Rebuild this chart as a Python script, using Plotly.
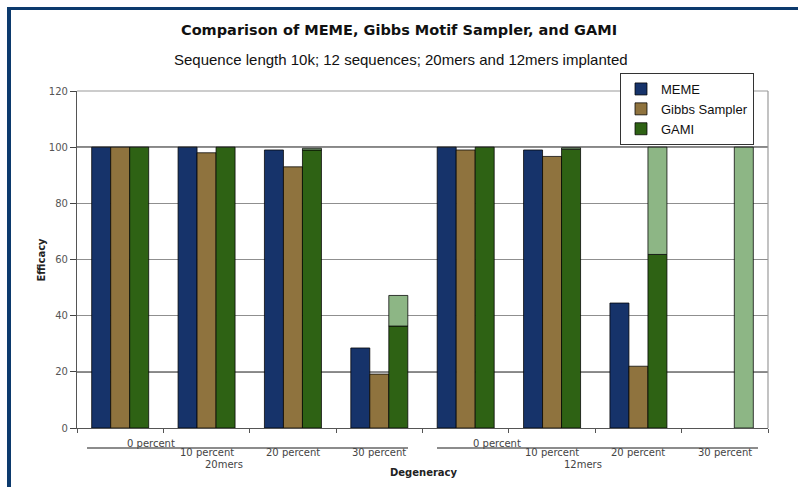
import plotly.graph_objects as go

categories = ["0 percent", "10 percent", "20 percent", "30 percent",
              "0 percent", "10 percent", "20 percent", "30 percent"]
groups = ["20mers", "12mers"]
meme = [100, 100, 99, 28.5, 100, 99, 44.5, 0]
gibbs = [100, 98, 93, 19.2, 99, 96.7, 22, 0]
gami = [100, 100, 99, 36.3, 100, 99.3, 61.8, 0]
gami_upper = [100, 100, 99.6, 47.2, 100, 99.8, 100, 100]
yticks = [0, 20, 40, 60, 80, 100, 120]

W, H = 798, 487
L, R, T, B = 77, 30, 91, 59
pw, ph = W - L - R, H - T - B

def px_x(p):
    return (p - L) / pw

def px_y(p):
    return (H - B - p) / ph

def outline(vals):
    return dict(color="rgba(0,0,0,0.75)", width=[1 if v > 0 else 0 for v in vals])

xs = list(range(len(categories)))
gami_ext = [u - g for u, g in zip(gami_upper, gami)]

fig = go.Figure()
fig.add_trace(go.Bar(x=xs, y=meme, name="MEME", offsetgroup="a",
                     marker=dict(color="#16336a", line=outline(meme))))
fig.add_trace(go.Bar(x=xs, y=gibbs, name="Gibbs Sampler", offsetgroup="b",
                     marker=dict(color="#8f733e", line=outline(gibbs))))
fig.add_trace(go.Bar(x=xs, y=gami, name="GAMI", offsetgroup="c",
                     marker=dict(color="#2e6214", line=outline(gami))))
fig.add_trace(go.Bar(x=xs, y=gami_ext, base=gami,
                     offsetgroup="c", showlegend=False,
                     marker=dict(color="#8db685", line=outline(gami_ext))))

shapes = []
for v in (20, 100):
    shapes.append(dict(type="line", xref="paper", yref="y", x0=0, x1=1, y0=v, y1=v,
                       line=dict(color="#111111", width=1.2), layer="below"))
shapes.append(dict(type="line", xref="paper", yref="paper", x0=0, x1=1, y0=1, y1=1,
                   line=dict(color="#9a9a9a", width=1.2)))
shapes.append(dict(type="line", xref="paper", yref="paper", x0=1, x1=1, y0=0, y1=1,
                   line=dict(color="#9a9a9a", width=1.2)))
for x0, x1 in ((-0.384, 3.332), (3.668, 7.384)):
    shapes.append(dict(type="line", xref="x", yref="paper", x0=x0, x1=x1,
                       y0=px_y(448), y1=px_y(448), line=dict(color="#666666", width=1.5)))
shapes.append(dict(type="line", xref="paper", yref="paper", x0=px_x(7), x1=px_x(798),
                   y0=px_y(8.5), y1=px_y(8.5), line=dict(color="#0c3a6d", width=3)))
shapes.append(dict(type="line", xref="paper", yref="paper", x0=px_x(9), x1=px_x(9),
                   y0=px_y(7), y1=px_y(487), line=dict(color="#0c3a6d", width=4)))

lab_font = dict(family="DejaVu Sans", size=10, color="#444444")
ann = []
for i, c in enumerate(categories):
    if i % 4 == 0:
        ann.append(dict(x=i + 0.36, y=px_y(443), xref="x", yref="paper", text=c,
                        showarrow=False, font=lab_font, yanchor="middle"))
    else:
        ann.append(dict(x=i, y=px_y(452.5), xref="x", yref="paper", text=c,
                        showarrow=False, font=lab_font, yanchor="middle"))
for gx, g in zip((1.2, 5.36), groups):
    ann.append(dict(x=gx, y=px_y(465), xref="x", yref="paper", text=g,
                    showarrow=False, font=lab_font, yanchor="middle"))
ann.append(dict(x=0.502, y=px_y(472), xref="paper", yref="paper", text="<b>Degeneracy</b>",
                showarrow=False, font=dict(family="DejaVu Sans", size=10, color="#222222"),
                yanchor="middle"))
ann.append(dict(x=px_x(33), y=px_y(260), xref="paper", yref="paper", text="<b>Efficacy</b>",
                textangle=-90, showarrow=False,
                font=dict(family="DejaVu Sans", size=10, color="#222222")))
ann.append(dict(x=px_x(399), y=px_y(30), xref="paper", yref="paper",
                text="<b>Comparison of MEME, Gibbs Motif Sampler, and GAMI</b>",
                showarrow=False, font=dict(family="DejaVu Sans", size=14.5, color="#111111"),
                yanchor="middle"))
ann.append(dict(x=px_x(401), y=px_y(59), xref="paper", yref="paper",
                text="Sequence length 10k; 12 sequences; 20mers and 12mers implanted",
                showarrow=False, font=dict(family="Liberation Sans", size=15, color="#111111"),
                yanchor="middle"))

fig.update_layout(
    width=W, height=H,
    margin=dict(l=L, r=R, t=T, b=B, pad=0),
    paper_bgcolor="white", plot_bgcolor="white",
    barmode="group", bargap=0.34, bargroupgap=0,
    shapes=shapes, annotations=ann,
    legend=dict(x=px_x(620), y=px_y(73), xanchor="left", yanchor="top",
                bgcolor="white", bordercolor="#333333", borderwidth=1,
                font=dict(family="Liberation Sans", size=13, color="#111111"),
                itemwidth=30, tracegroupgap=0),
    showlegend=True,
)
fig.update_xaxes(range=[-0.5, 7.5], tickvals=[i - 0.5 for i in range(9)],
                 showticklabels=False, ticks="outside", ticklen=4, tickcolor="#555555",
                 showgrid=False, showline=True, linecolor="#555555", linewidth=1.2,
                 zeroline=False, fixedrange=True)
fig.update_yaxes(range=[0, 120], tickvals=yticks, ticks="outside", ticklen=6,
                 tickcolor="#444444", showgrid=True, gridcolor="#8f8f8f", gridwidth=1,
                 showline=True, linecolor="#555555", linewidth=1.2, zeroline=False,
                 tickfont=dict(family="DejaVu Sans", size=10, color="#555555"),
                 fixedrange=True)

fig.write_html("out.html")
